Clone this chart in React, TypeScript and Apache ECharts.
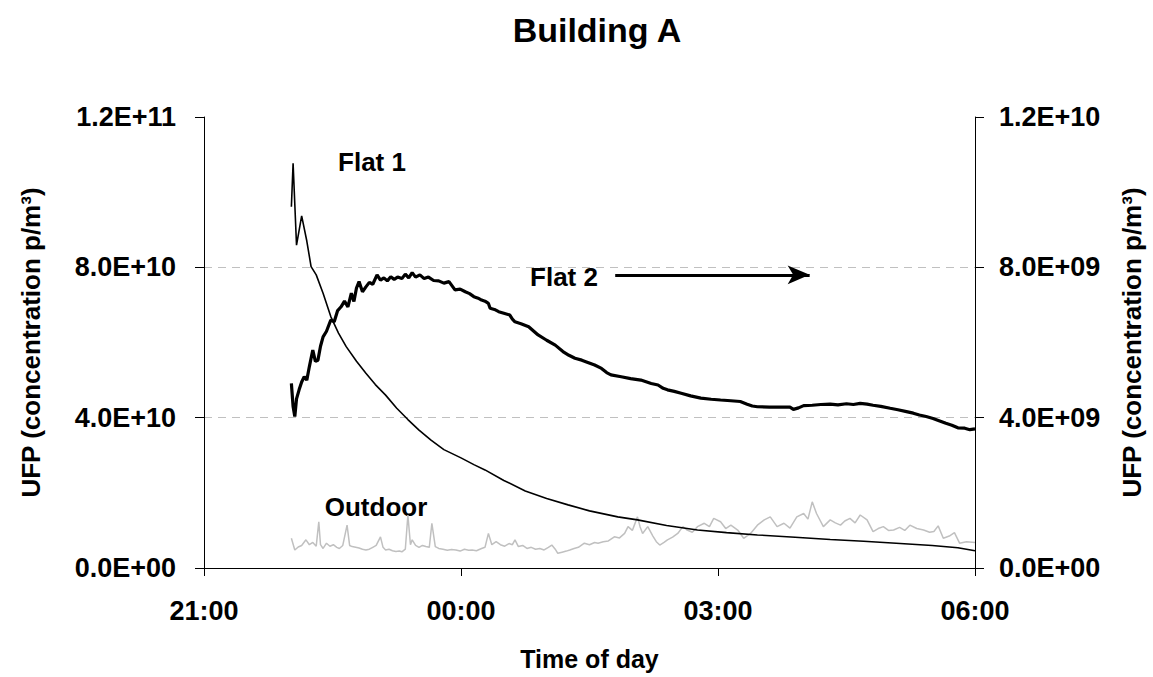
import React, { useEffect, useRef } from "react";
import * as echarts from "echarts";

// Time is in hours counted from midnight of the first evening (21 = 21:00, 24 = 00:00, 30 = 06:00)

// Flat 1: [time, UFP in units of 1E+10 p/m3] (left axis)
const flat1Data: number[][] = [
  [22.02, 9.61], [22.04, 10.77], [22.08, 8.59], [22.14, 9.37], [22.2, 8.7], [22.25, 8.02], [22.31, 7.8],
  [22.39, 7.31], [22.48, 6.69], [22.57, 6.25], [22.66, 5.89], [22.78, 5.5], [22.89, 5.18], [23.0, 4.88],
  [23.12, 4.6], [23.25, 4.25], [23.38, 3.95], [23.51, 3.67], [23.65, 3.4], [23.8, 3.15], [24.0, 2.93],
  [24.15, 2.75], [24.28, 2.61], [24.5, 2.33], [24.75, 2.05], [25.0, 1.85], [25.25, 1.68], [25.5, 1.52],
  [25.83, 1.36], [26.06, 1.28], [26.4, 1.13], [26.76, 1.01], [27.1, 0.94], [27.46, 0.88], [27.9, 0.82],
  [28.31, 0.76], [28.7, 0.71], [29.08, 0.66], [29.5, 0.6], [29.8, 0.54], [30.0, 0.46],
];

// Flat 2: [time, UFP in units of 1E+09 p/m3] (right axis)
const flat2Data: number[][] = [
  [22.02, 4.91], [22.04, 4.3], [22.06, 4.03], [22.08, 4.5], [22.11, 4.74], [22.14, 4.95], [22.17, 5.09],
  [22.2, 5.0], [22.23, 5.36], [22.27, 5.8], [22.3, 5.5], [22.33, 5.53], [22.36, 5.9], [22.39, 6.15],
  [22.43, 6.3], [22.48, 6.6], [22.52, 6.55], [22.56, 6.85], [22.6, 6.95], [22.64, 7.1], [22.68, 6.95],
  [22.72, 7.31], [22.75, 7.09], [22.78, 7.45], [22.81, 7.62], [22.85, 7.35], [22.89, 7.48], [22.93, 7.6],
  [22.97, 7.55], [23.02, 7.8], [23.06, 7.66], [23.1, 7.72], [23.14, 7.64], [23.18, 7.75], [23.22, 7.68],
  [23.26, 7.74], [23.31, 7.7], [23.35, 7.82], [23.39, 7.72], [23.43, 7.86], [23.47, 7.74], [23.52, 7.8],
  [23.57, 7.7], [23.62, 7.74], [23.68, 7.65], [23.74, 7.64], [23.8, 7.58], [23.86, 7.62], [23.93, 7.4],
  [23.99, 7.42], [24.05, 7.35], [24.1, 7.3], [24.15, 7.22], [24.2, 7.18], [24.24, 7.13], [24.28, 7.1],
  [24.32, 7.04], [24.34, 6.91], [24.39, 6.88], [24.44, 6.82], [24.5, 6.78], [24.57, 6.73], [24.6, 6.62],
  [24.63, 6.55], [24.7, 6.5], [24.79, 6.42], [24.85, 6.3], [24.9, 6.2], [25.0, 6.06], [25.1, 5.93],
  [25.19, 5.76], [25.26, 5.66], [25.33, 5.58], [25.41, 5.53], [25.48, 5.47], [25.56, 5.4], [25.64, 5.31],
  [25.7, 5.2], [25.75, 5.14], [25.87, 5.09], [25.98, 5.04], [26.1, 5.0], [26.22, 4.91], [26.3, 4.87],
  [26.36, 4.78], [26.41, 4.74], [26.49, 4.7], [26.57, 4.65], [26.68, 4.58], [26.8, 4.52], [26.92, 4.49],
  [27.03, 4.47], [27.15, 4.45], [27.26, 4.43], [27.34, 4.36], [27.4, 4.31], [27.46, 4.29], [27.6, 4.28],
  [27.72, 4.28], [27.84, 4.28], [27.88, 4.22], [27.94, 4.26], [28.0, 4.32], [28.1, 4.33], [28.2, 4.35],
  [28.31, 4.36], [28.4, 4.34], [28.5, 4.37], [28.58, 4.35], [28.66, 4.38], [28.74, 4.36], [28.81, 4.33],
  [28.9, 4.3], [29.01, 4.25], [29.1, 4.21], [29.2, 4.16], [29.28, 4.12], [29.35, 4.07], [29.43, 4.03],
  [29.51, 3.98], [29.58, 3.92], [29.66, 3.85], [29.73, 3.8], [29.8, 3.73], [29.88, 3.72], [29.94, 3.68],
  [30.0, 3.7],
];

// Outdoor: [time, UFP in units of 1E+10 p/m3] (left axis)
const outdoorData: number[][] = [
  [22.02, 0.79], [22.06, 0.48], [22.1, 0.56], [22.14, 0.6], [22.19, 0.75], [22.23, 0.62], [22.27, 0.68],
  [22.31, 0.58], [22.34, 1.23], [22.36, 0.62], [22.39, 0.52], [22.43, 0.66], [22.47, 0.58], [22.51, 0.62],
  [22.55, 0.55], [22.58, 0.52], [22.62, 0.6], [22.67, 1.14], [22.7, 0.6], [22.73, 0.57], [22.77, 0.55],
  [22.81, 0.53], [22.85, 0.5], [22.89, 0.48], [22.93, 0.5], [22.97, 0.55], [23.01, 0.6], [23.06, 0.83],
  [23.09, 0.55], [23.12, 0.48], [23.16, 0.5], [23.2, 0.46], [23.24, 0.44], [23.28, 0.45], [23.31, 0.43],
  [23.35, 0.5], [23.38, 1.41], [23.41, 0.62], [23.43, 0.75], [23.47, 0.6], [23.51, 0.55], [23.55, 0.6],
  [23.59, 0.57], [23.63, 0.55], [23.66, 1.19], [23.7, 0.57], [23.74, 0.52], [23.79, 0.5], [23.84, 0.47],
  [23.89, 0.49], [23.94, 0.48], [23.99, 0.45], [24.04, 0.5], [24.09, 0.47], [24.13, 0.48], [24.18, 0.46],
  [24.24, 0.52], [24.28, 0.55], [24.32, 0.92], [24.36, 0.62], [24.41, 0.7], [24.46, 0.62], [24.51, 0.58],
  [24.56, 0.65], [24.6, 0.62], [24.63, 0.75], [24.67, 0.57], [24.72, 0.6], [24.77, 0.52], [24.82, 0.55],
  [24.87, 0.5], [24.92, 0.52], [24.97, 0.48], [25.02, 0.55], [25.06, 0.61], [25.1, 0.5], [25.13, 0.39],
  [25.18, 0.42], [25.23, 0.45], [25.27, 0.48], [25.32, 0.52], [25.37, 0.55], [25.44, 0.66], [25.5, 0.62],
  [25.56, 0.68], [25.6, 0.66], [25.66, 0.7], [25.72, 0.72], [25.79, 0.83], [25.85, 0.8], [25.91, 0.92],
  [25.95, 1.1], [26.0, 1.0], [26.06, 1.36], [26.09, 1.1], [26.12, 0.92], [26.18, 1.1], [26.24, 0.85],
  [26.28, 0.7], [26.32, 0.61], [26.37, 0.68], [26.41, 0.75], [26.47, 0.82], [26.53, 0.92], [26.59, 1.1],
  [26.64, 1.01], [26.7, 0.95], [26.76, 1.1], [26.84, 1.19], [26.9, 1.1], [26.95, 1.32], [27.03, 1.23],
  [27.09, 1.05], [27.15, 1.14], [27.23, 1.01], [27.3, 0.79], [27.38, 0.92], [27.46, 1.14], [27.54, 1.28],
  [27.61, 1.36], [27.69, 1.1], [27.77, 1.19], [27.84, 1.06], [27.92, 1.36], [28.0, 1.45], [28.05, 1.3],
  [28.1, 1.76], [28.15, 1.45], [28.23, 1.1], [28.31, 1.28], [28.37, 1.2], [28.43, 1.14], [28.48, 1.25],
  [28.54, 1.32], [28.6, 1.2], [28.66, 1.41], [28.74, 1.28], [28.81, 0.97], [28.87, 1.05], [28.93, 1.1],
  [28.99, 1.0], [29.05, 1.01], [29.12, 1.08], [29.18, 1.0], [29.24, 1.14], [29.32, 1.05], [29.4, 1.01],
  [29.47, 0.95], [29.52, 0.97], [29.57, 1.12], [29.63, 0.79], [29.7, 0.85], [29.76, 0.94], [29.82, 0.66],
  [29.9, 0.7], [30.0, 0.68],
];

const leftTicks = [0, 4, 8, 12]; // x 1E+10
const rightTicks = [0, 4, 8, 12]; // x 1E+09
const timeTicks = [21, 24, 27, 30];

const FONT = '"Liberation Sans", Arial, sans-serif';

function sci(v: number): string {
  if (v === 0) return "0.0E+00";
  let e = Math.floor(Math.log10(v) + 1e-9);
  let m = v / Math.pow(10, e);
  if (m >= 9.95) { m /= 10; e += 1; }
  return m.toFixed(1) + "E+" + String(e).padStart(2, "0");
}

function hh(v: number): string {
  const h = Math.round(v) % 24;
  return String(h).padStart(2, "0") + ":00";
}

export default function App() {
  const ref = useRef<HTMLDivElement>(null);
  useEffect(() => {
    if (!ref.current) return;
    const chart = echarts.init(ref.current, undefined, { renderer: "svg" });
    const axisLabel = { fontFamily: FONT, fontWeight: "bold", fontSize: 27, color: "#000" };
    const nameStyle = { fontFamily: FONT, fontWeight: "bold", fontSize: 26, color: "#000" };
    chart.setOption({
      animation: false,
      backgroundColor: "#fff",
      title: {
        text: "Building A",
        left: 592,
        textAlign: "center",
        top: 8,
        textStyle: { fontFamily: FONT, fontWeight: "bold", fontSize: 34, color: "#000" },
      },
      grid: { left: 204, right: 174, top: 117, bottom: 109 },
      xAxis: {
        type: "value",
        min: timeTicks[0],
        max: timeTicks[timeTicks.length - 1],
        interval: 3,
        name: "Time of day",
        nameLocation: "middle",
        nameGap: 78,
        nameTextStyle: { fontFamily: FONT, fontWeight: "bold", fontSize: 25, color: "#000" },
        axisLine: { show: true, lineStyle: { color: "#000", width: 1 } },
        axisTick: { show: true, inside: false, length: 8, lineStyle: { color: "#000" } },
        axisLabel: { ...axisLabel, margin: 29, formatter: (v: number) => hh(v) },
        splitLine: { show: false },
      },
      yAxis: [
        {
          type: "value",
          position: "left",
          min: leftTicks[0],
          max: leftTicks[leftTicks.length - 1],
          interval: 4,
          name: "UFP (concentration p/m³)",
          nameLocation: "middle",
          nameRotate: 90,
          nameGap: 160,
          nameTextStyle: nameStyle,
          axisLine: { show: true, lineStyle: { color: "#000", width: 1 } },
          axisTick: { show: true, inside: false, length: 9, lineStyle: { color: "#000" } },
          axisLabel: { ...axisLabel, margin: 28, formatter: (v: number) => sci(v * 1e10) },
          splitLine: {
            show: true,
            lineStyle: { type: [8, 6], color: ["rgba(0,0,0,0)", "#c0c0c0", "#c0c0c0", "rgba(0,0,0,0)"], width: 1 },
          },
        },
        {
          type: "value",
          position: "right",
          min: rightTicks[0],
          max: rightTicks[rightTicks.length - 1],
          interval: 4,
          name: "UFP (concentration p/m³)",
          nameLocation: "middle",
          nameRotate: 90,
          nameGap: 144,
          nameTextStyle: nameStyle,
          axisLine: { show: true, lineStyle: { color: "#000", width: 1 } },
          axisTick: { show: true, inside: false, length: 9, lineStyle: { color: "#000" } },
          axisLabel: { ...axisLabel, margin: 24, formatter: (v: number) => sci(v * 1e9) },
          splitLine: { show: false },
        },
      ],
      series: [
        {
          name: "Outdoor",
          type: "line",
          yAxisIndex: 0,
          data: outdoorData,
          showSymbol: false,
          lineStyle: { color: "#c0c0c0", width: 1.5 },
          z: 1,
        },
        {
          name: "Flat 1",
          type: "line",
          yAxisIndex: 0,
          data: flat1Data,
          showSymbol: false,
          lineStyle: { color: "#000", width: 1.6 },
          z: 2,
        },
        {
          name: "Flat 2",
          type: "line",
          yAxisIndex: 1,
          data: flat2Data,
          showSymbol: false,
          lineStyle: { color: "#000", width: 3.2 },
          z: 3,
          markLine: {
            silent: true,
            symbol: ["none", "arrow"],
            symbolSize: [14, 22],
            label: { show: false },
            lineStyle: { color: "#000", width: 3, type: "solid" },
            data: [[{ coord: [25.8, 7.8] }, { coord: [28.07, 7.8] }]],
          },
        },
      ],
      graphic: [
        { type: "text", x: 372, y: 162, style: { text: "Flat 1", font: `bold 26px ${FONT}`, fill: "#000", align: "center", verticalAlign: "middle" } },
        { type: "text", x: 564, y: 277, style: { text: "Flat 2", font: `bold 26px ${FONT}`, fill: "#000", align: "center", verticalAlign: "middle" } },
        { type: "text", x: 376, y: 507, style: { text: "Outdoor", font: `bold 26px ${FONT}`, fill: "#000", align: "center", verticalAlign: "middle" } },
      ],
    });
    return () => chart.dispose();
  }, []);
  return <div ref={ref} style={{ position: "absolute", left: 0, top: 0, width: 1153, height: 677 }} />;
}
